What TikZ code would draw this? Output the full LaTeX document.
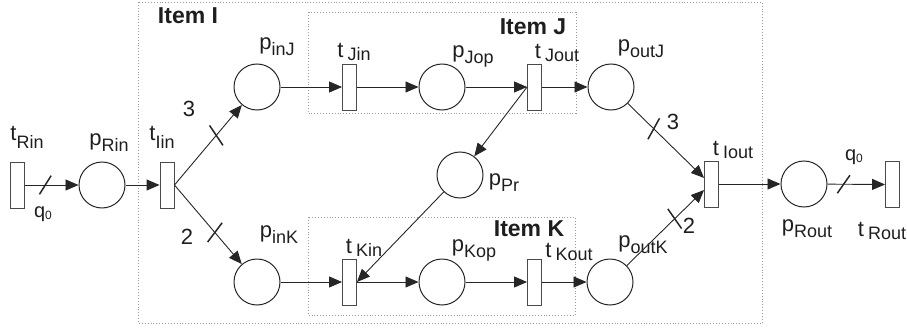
\documentclass[tikz,border=0pt]{standalone}
\usepackage{fontspec}
\setmainfont{Liberation Sans}
\usetikzlibrary{arrows.meta}
\definecolor{linec}{HTML}{262626}
\definecolor{transc}{HTML}{4A4A4A}
\definecolor{textc}{HTML}{1E1E1E}
\definecolor{boxc}{HTML}{9A9A9A}
\newcommand{\plab}[2]{{\fontsize{22}{22}\selectfont #1}\raisebox{-6pt}{\fontsize{18}{18}\selectfont #2}}
\newcommand{\tlabA}[2]{{\fontsize{22}{22}\selectfont #1}\raisebox{-8pt}{\fontsize{18}{18}\selectfont #2}}
\newcommand{\tlabB}[2]{{\fontsize{22}{22}\selectfont #1}\hspace{4pt}\raisebox{-3pt}{\fontsize{18}{18}\selectfont #2}}
\newcommand{\qlab}{{\fontsize{20}{20}\selectfont q}\raisebox{-2pt}{\fontsize{12}{12}\selectfont 0}}
\begin{document}
\begin{tikzpicture}[x=1pt,y=-1pt,
  place/.style={circle, draw=linec, line width=1pt, minimum size=46pt, inner sep=0pt},
  trans/.style={rectangle, draw=transc, line width=0.9pt, minimum width=14pt, minimum height=46pt, inner sep=0pt},
  arr/.style={draw=linec, line width=0.9pt, -{Triangle[length=13pt,width=11pt]}},
  wtick/.style={draw=linec, line width=1.5pt},
  lbl/.style={inner sep=0pt, text=textc, anchor=center},
  itm/.style={inner sep=0pt, font=\fontsize{23}{23}\selectfont\bfseries, text=textc},
  grp/.style={draw=boxc, dotted, line width=0.9pt}
]
\useasboundingbox (0,0) rectangle (907,329);
% group boxes
\draw[grp] (138,2) rectangle (762,323);
\draw[grp] (308,12) rectangle (576,113);
\draw[grp] (308,217) rectangle (575,315);
\node[itm] (itI) at (188,16) {Item I};
\node[itm] (itJ) at (533,27) {Item J};
\node[itm] (itK) at (529,228.5) {Item K};
% places and transitions
\node[trans] (tRin)  at (17.5,185) {};
\node[place] (pRin)  at (102,185) {};
\node[trans] (tIin)  at (167,185) {};
\node[place] (pinJ)  at (257,87) {};
\node[trans] (tJin)  at (349.5,87) {};
\node[place] (pJop)  at (442,87) {};
\node[trans] (tJout) at (534.5,87) {};
\node[place] (poutJ) at (611,87) {};
\node[place] (pPr)   at (460,175) {};
\node[place] (pinK)  at (257,282) {};
\node[trans] (tKin)  at (349.5,282) {};
\node[place] (pKop)  at (442,282) {};
\node[trans] (tKout) at (534.5,282) {};
\node[place] (poutK) at (610,282) {};
\node[trans] (tIout) at (711.5,184) {};
\node[place] (pRout) at (804,184) {};
\node[trans] (tRout) at (892.5,184.5) {};
% labels
\node[lbl] (LtRin)  at (27,137)  {\tlabA{t}{Rin}};
\node[lbl] (LpRin)  at (109,143) {\plab{p}{Rin}};
\node[lbl] (LtIin)  at (162,137) {\tlabA{t}{Iin}};
\node[lbl] (LpinJ)  at (277,47)  {\plab{p}{inJ}};
\node[lbl] (LtJin)  at (354,52)  {\tlabB{t}{Jin}};
\node[lbl] (LpJop)  at (473,56)  {\plab{p}{Jop}};
\node[lbl] (LtJout) at (557,53)  {\tlabB{t}{Jout}};
\node[lbl] (LpoutJ) at (641,49)  {\plab{p}{outJ}};
\node[lbl] (LpPr)   at (504,183) {\plab{p}{Pr}};
\node[lbl] (LpinK)  at (279,235) {\plab{p}{inK}};
\node[lbl] (LtKin)  at (364,248) {\tlabB{t}{Kin}};
\node[lbl] (LpKop)  at (474,250) {\plab{p}{Kop}};
\node[lbl] (LtKout) at (569,251.5) {\tlabB{t}{Kout}};
\node[lbl] (LpoutK) at (643,245) {\plab{p}{outK}};
\node[lbl] (LtIout) at (733,150) {\tlabB{t}{Iout}};
\node[lbl] (LpRout) at (807,229) {\plab{p}{Rout}};
\node[lbl] (LtRout) at (882,231) {\tlabB{t}{Rout}};
\node[lbl] (Lq1)    at (43,214)  {\qlab};
\node[lbl] (Lq2)    at (854,157) {\qlab};
\node[lbl, font=\fontsize{22}{22}\selectfont] (w1) at (189,109) {3};
\node[lbl, font=\fontsize{22}{22}\selectfont] (w2) at (187,237) {2};
\node[lbl, font=\fontsize{22}{22}\selectfont] (w3) at (673,122) {3};
\node[lbl, font=\fontsize{22}{22}\selectfont] (w4) at (689,226) {2};
% arcs
\draw[arr] (tRin.east) -- coordinate[pos=0.38] (s1) (pRin);
\draw[arr] (pRin) -- (tIin.west);
\draw[arr] (tIin.east) -- coordinate[pos=0.62] (s2) (pinJ);
\draw[arr] (tIin.east) -- coordinate[pos=0.6] (s3) (pinK);
\draw[arr] (pinJ) -- (tJin.west);
\draw[arr] (tJin.east) -- (pJop);
\draw[arr] (pJop) -- (tJout.west);
\draw[arr] (tJout.east) -- (poutJ);
\draw[arr] (tJout.west) -- (pPr);
\draw[arr] (pPr) -- (tKin.east);
\draw[arr] (pinK) -- (tKin.west);
\draw[arr] (tKin.east) -- (pKop);
\draw[arr] (pKop) -- (tKout.west);
\draw[arr] (tKout.east) -- (poutK);
\draw[arr] (poutJ) -- coordinate[pos=0.34] (s4) ([yshift=6pt]tIout.west);
\draw[arr] (poutK) -- coordinate[pos=0.62] (s5) ([yshift=-6pt]tIout.west);
\draw[arr] (tIout.east) -- (pRout);
\draw[arr] (pRout) -- coordinate[pos=0.28] (s6) (tRout.west);
% weight ticks
\draw[wtick] ([shift={(58:11pt)}]s1) -- ([shift={(238:11pt)}]s1);
\draw[wtick] ([shift={(124:12pt)}]s2) -- ([shift={(304:12pt)}]s2);
\draw[wtick] ([shift={(53:12pt)}]s3) -- ([shift={(233:12pt)}]s3);
\draw[wtick] ([shift={(61:12pt)}]s4) -- ([shift={(241:12pt)}]s4);
\draw[wtick] ([shift={(125:12pt)}]s5) -- ([shift={(305:12pt)}]s5);
\draw[wtick] ([shift={(55:11pt)}]s6) -- ([shift={(235:11pt)}]s6);
\end{tikzpicture}
\end{document}
